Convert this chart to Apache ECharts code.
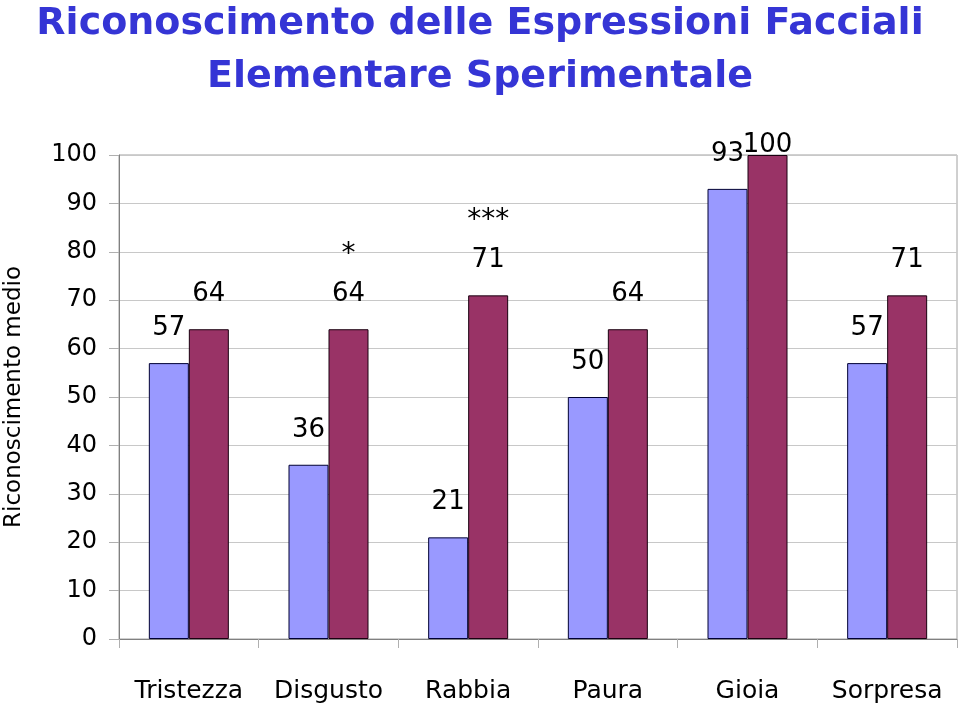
<!DOCTYPE html>
<html><head><meta charset="utf-8">
<script src="https://cdn.jsdelivr.net/npm/echarts@6/dist/echarts.min.js"></script>
<style>html,body{margin:0;padding:0;background:#fff}#c{width:960px;height:709px}</style>
</head><body><div id="c"></div>
<script>
const categories = ['Tristezza','Disgusto','Rabbia','Paura','Gioia','Sorpresa'];
const seriesA = [57, 36, 21, 50, 93, 57];
const seriesB = [64, 64, 71, 64, 100, 71];
const significance = ['', '*', '***', '', '', ''];
const yTicks = [0,10,20,30,40,50,60,70,80,90,100];
const titleLines = ['Riconoscimento delle Espressioni Facciali', 'Elementare Sperimentale'];
const yName = 'Riconoscimento medio';

const FONT = "'Comic Sans MS', 'DejaVu Sans', sans-serif";
const YMAX = 100;
const chart = echarts.init(document.getElementById('c'));
chart.setOption({
  animation: false,
  title: {
    text: titleLines.join('\n'),
    left: 'center', top: -7,
    textStyle: { fontFamily: FONT, fontSize: 38, fontWeight: 'bold', color: '#3535d5', lineHeight: 53 }
  },
  grid: { left: 119, right: 3, top: 155, bottom: 70, outerBoundsMode: 'none',
    show: true, borderColor: '#a0a0a0', borderWidth: 1 },
  xAxis: {
    type: 'category', data: categories,
    axisLine: { lineStyle: { color: '#808080', width: 1 } },
    axisTick: { show: true, interval: 0, length: 9, lineStyle: { color: '#b0b0b0' } },
    axisLabel: { interval: 0, hideOverlap: false, fontFamily: FONT, fontSize: 25, color: '#000', margin: 40 }
  },
  yAxis: {
    type: 'value', min: 0, max: YMAX, interval: 10,
    name: yName, nameLocation: 'middle', nameGap: 93, nameRotate: 90,
    nameTextStyle: { fontFamily: FONT, fontSize: 23, color: '#000' },
    axisLine: { show: true, lineStyle: { color: '#808080' } },
    axisTick: { show: true, length: 10, lineStyle: { color: '#b0b0b0' } },
    axisLabel: { fontFamily: FONT, fontSize: 24, color: '#000', margin: 22,
      formatter: v => yTicks.includes(v) ? String(v) : '' },
    splitLine: { show: true, lineStyle: { color: '#c8c8c8' } }
  },
  series: [
    {
      type: 'bar', data: seriesA, barWidth: 40, barGap: '0%',
      itemStyle: { color: '#9999ff', borderColor: '#000033', borderWidth: 1 },
      label: { show: true, position: 'top', distance: 22, fontFamily: FONT, fontSize: 26, color: '#000' }
    },
    {
      type: 'bar', barWidth: 40,
      data: seriesB.map(v => v >= YMAX ? { value: v, label: { distance: -3 } } : v),
      itemStyle: { color: '#993366', borderColor: '#1a0010', borderWidth: 1 },
      label: { show: true, position: 'top', distance: 22, fontFamily: FONT, fontSize: 26, color: '#000',
        formatter: p => significance[p.dataIndex] ? '{s|' + significance[p.dataIndex] + '}\n{v|' + p.value + '}' : '{v|' + p.value + '}',
        rich: {
          s: { fontFamily: FONT, fontSize: 28, color: '#000', lineHeight: 54 },
          v: { fontFamily: FONT, fontSize: 26, color: '#000', lineHeight: 26 }
        }
      }
    }
  ]
});
</script></body></html>
